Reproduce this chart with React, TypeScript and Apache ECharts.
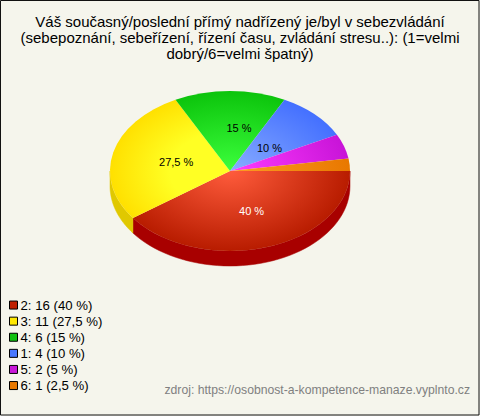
import React, { useEffect, useRef } from "react";
import * as echarts from "echarts";

const categories = ["2", "3", "4", "1", "5", "6"];
const counts = [16, 11, 6, 4, 2, 1];
const percentLabels = ["40 %", "27,5 %", "15 %", "10 %", "5 %", "2,5 %"];
const showLabel = [true, true, true, true, false, false];
const titleLines = [
  "Váš současný/poslední přímý nadřízený je/byl v sebezvládání",
  "(sebepoznání, sebeřízení, řízení času, zvládání stresu..): (1=velmi",
  "dobrý/6=velmi špatný)",
];
const sourceText = "zdroj: https://osobnost-a-kompetence-manaze.vyplnto.cz";

const rimColors = ["#b81c00", "#ffe000", "#0cc40c", "#4470ff", "#c814d8", "#e87800"];
const coreColors = ["#ff5c3c", "#ffff24", "#3cff3c", "#88acff", "#ff3cff", "#ff9c24"];
const coreHold = [0, 0.5, 0, 0, 0, 0];
const legendColors = ["#c02000", "#ffe800", "#10c010", "#4878ff", "#c818d8", "#e87800"];
const wallColors = ["#a80000", "#e0c800", "#089808", "#3050c0", "#9010a0", "#b05800"];
const labelColors = ["#ffffff", "#000000", "#000000", "#000000", "#000000", "#000000"];
const labelNudges = [[3, 2], [4.5, 0], [9, -3], [-3, 5], [0, 0], [0, 0]];

const CX = 230, CY = 171, RX = 120, RY = 80, DEPTH = 15;
const total = counts.reduce((a, b) => a + b, 0);
const toRad = (share: number) => share * 2 * Math.PI;

function sliceRenderer(index: number) {
  const before = counts.slice(0, index).reduce((a, b) => a + b, 0);
  return (_params: any, api: any) => {
    const value = api.value(0);
    const a0 = toRad(before / total);
    const a1 = toRad((before + value) / total);
    const children: any[] = [];
    // side wall: only the front half of the rim (0..PI) can be seen
    const w0 = Math.min(a0, Math.PI), w1 = Math.min(a1, Math.PI);
    if (w1 > w0) {
      const top: number[][] = [], bottom: number[][] = [];
      const steps = 48;
      for (let i = 0; i <= steps; i++) {
        const a = w0 + ((w1 - w0) * i) / steps;
        const x = CX + RX * Math.cos(a), y = CY + RY * Math.sin(a);
        top.push([x, y]);
        bottom.unshift([x, y + DEPTH]);
      }
      children.push({
        type: "polygon",
        shape: { points: top.concat(bottom) },
        style: { fill: wallColors[index], stroke: wallColors[index], lineWidth: 0.5 },
        z2: 1,
      });
    }
    children.push({
      type: "sector",
      x: CX,
      y: CY,
      scaleY: RY / RX,
      shape: { cx: 0, cy: 0, r0: 0, r: RX, startAngle: a0, endAngle: a1, clockwise: true },
      style: {
        fill: new echarts.graphic.RadialGradient(0, 0, RX, [
          { offset: 0, color: coreColors[index] },
          { offset: coreHold[index], color: coreColors[index] },
          { offset: 1, color: rimColors[index] },
        ], true),
      },
      z2: 2,
    });
    if (showLabel[index]) {
      const mid = (a0 + a1) / 2;
      children.push({
        type: "text",
        x: CX + RX * 0.5 * Math.cos(mid) + labelNudges[index][0],
        y: CY + RY * 0.5 * Math.sin(mid) + labelNudges[index][1],
        style: {
          text: percentLabels[index],
          fill: labelColors[index],
          font: '11px "Liberation Sans", Arial, sans-serif',
          align: "center",
          verticalAlign: "middle",
        },
        z2: 3,
      });
    }
    return { type: "group", children };
  };
}

const legendName = (i: number) => `${categories[i]}: ${counts[i]} (${percentLabels[i]})`;

export default function App() {
  const ref = useRef<HTMLDivElement>(null);
  useEffect(() => {
    document.body.style.margin = "0";
    const chart = echarts.init(ref.current!, null, { renderer: "svg" });
    chart.setOption({
      animation: false,
      backgroundColor: "#f5f5ec",
      title: [
        {
          text: titleLines.join("\n"),
          left: 240,
          top: 13,
          textAlign: "center",
          padding: 0,
          textStyle: {
            fontFamily: '"Liberation Sans", Arial, sans-serif',
            fontSize: 15,
            fontWeight: "normal",
            color: "#000",
            lineHeight: 16,
          },
        },
        {
          text: sourceText,
          right: 10,
          top: 383,
          padding: 0,
          textStyle: {
            fontFamily: '"Liberation Sans", Arial, sans-serif',
            fontSize: 12.2,
            fontWeight: "normal",
            color: "#808080",
            lineHeight: 14,
          },
        },
      ],
      legend: {
        orient: "vertical",
        left: 9,
        top: 297,
        padding: 0,
        itemWidth: 8,
        itemHeight: 8,
        itemGap: 0,
        icon: "rect",
        itemStyle: { borderColor: "#000", borderWidth: 1 },
        textStyle: {
          fontFamily: '"Liberation Sans", Arial, sans-serif',
          fontSize: 13.2,
          color: "#000",
          lineHeight: 16.1,
          padding: [0, 0, 0, -2],
        },
        selectedMode: false,
        data: categories.map((_, i) => legendName(i)),
      },
      graphic: [
        {
          type: "rect",
          silent: true,
          z: 100,
          shape: { x: 0.5, y: 0.5, width: 478.5, height: 414.5 },
          style: { fill: "none", stroke: "#111", lineWidth: 1 },
        },
      ],
      series: categories.map((_, i) => ({
        type: "custom",
        name: legendName(i),
        coordinateSystem: "none",
        itemStyle: { color: legendColors[i] },
        data: [[counts[i]]],
        renderItem: sliceRenderer(i),
      })),
    });
    return () => chart.dispose();
  }, []);
  return <div ref={ref} style={{ width: 480, height: 416 }} />;
}
